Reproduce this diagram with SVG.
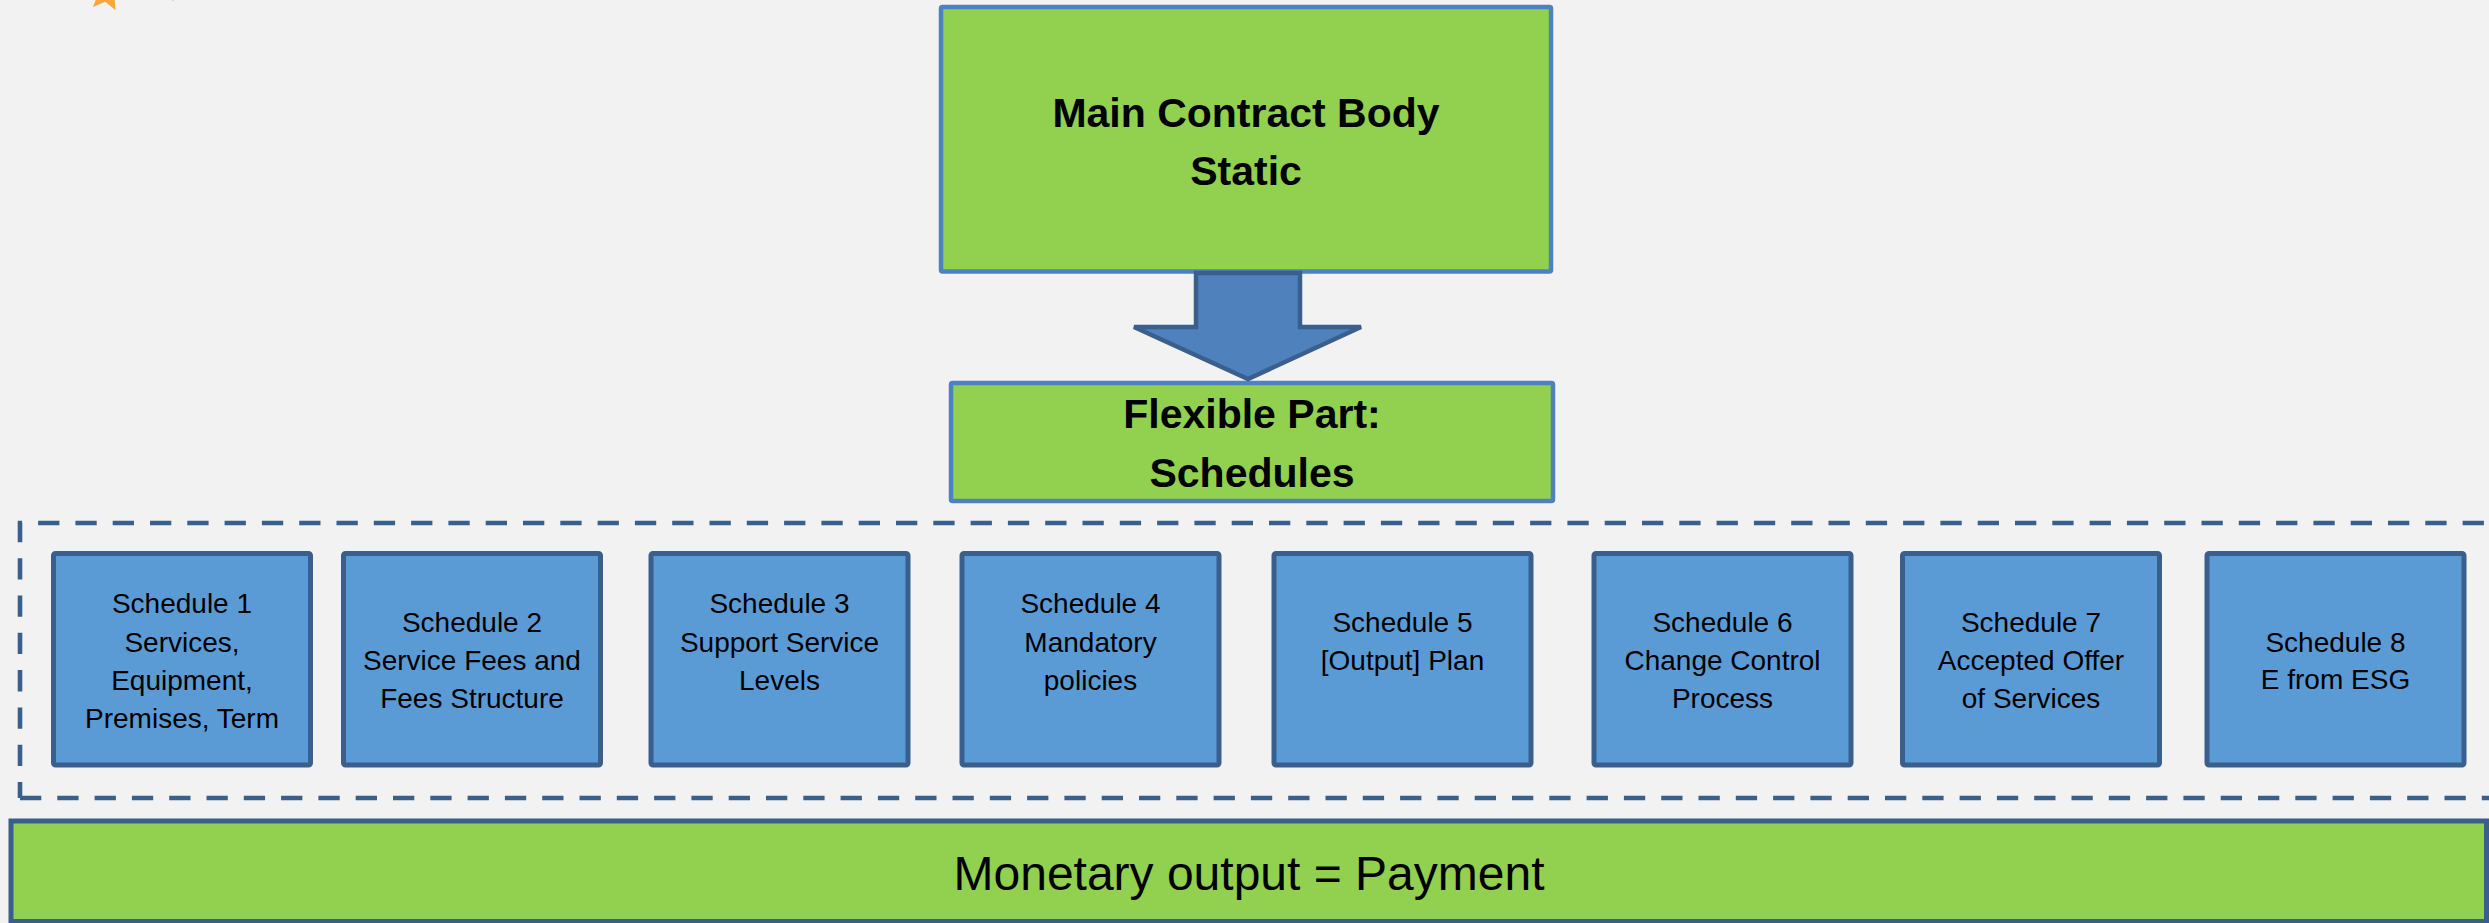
<svg xmlns="http://www.w3.org/2000/svg" width="2489" height="923" viewBox="0 0 2489 923">
<style>
.bg{fill:#F2F2F2}
.green{fill:#92D050;stroke:#4F81BD;stroke-width:4.5}
.sched{fill:#5B9BD5;stroke:#3B5F8C;stroke-width:5}
.bar{fill:#92D050;stroke:#3B5F8C;stroke-width:5}
.dash{fill:none;stroke:#3B5F8C;stroke-width:4.6;stroke-dasharray:21.3 16}
.star{fill:#F9A43E}
.bold{font-family:"Liberation Sans",Arial,sans-serif;font-weight:bold;font-size:41px;fill:#000;text-anchor:middle}
.st{font-family:"Liberation Sans",Arial,sans-serif;font-size:28px;fill:#000;text-anchor:middle}
.big{font-family:"Liberation Sans",Arial,sans-serif;font-size:48px;fill:#000;text-anchor:middle}
.arrow{fill:#4F81BD;stroke:#3B5F8C;stroke-width:4.5;stroke-linejoin:miter}
</style>
<rect class="bg" x="0" y="0" width="2489" height="923"/>
<g id="stars">
<polygon class="star" points="115.65,10.22 105.28,1.71 92.95,7.03 97.83,-5.47 88.97,-15.55 102.37,-14.77 109.21,-26.31 112.61,-13.33 125.7,-10.39 114.41,-3.14"/>
<polygon class="star" points="173,1.5 178,-11 191.5,-12 181,-21 185,-34 173,-27 161,-34 165,-21 154.5,-12 168,-11"/>
</g>
<g id="schedules-frame">
<path class="dash" style="stroke-dashoffset:5.3" d="M20,798 V523 H2540"/>
<path class="dash" d="M20,798 H2540"/>
</g>
<g id="schedule1">
<rect class="sched" x="53.5" y="553.5" width="257" height="211.5" rx="2"/>
<text class="st" x="182" y="613">Schedule 1</text>
<text class="st" x="182" y="652">Services,</text>
<text class="st" x="182" y="690">Equipment,</text>
<text class="st" x="182" y="728">Premises, Term</text>
</g>
<g id="schedule2">
<rect class="sched" x="343.5" y="553.5" width="257" height="211.5" rx="2"/>
<text class="st" x="472" y="632">Schedule 2</text>
<text class="st" x="472" y="670">Service Fees and</text>
<text class="st" x="472" y="708">Fees Structure</text>
</g>
<g id="schedule3">
<rect class="sched" x="651" y="553.5" width="257" height="211.5" rx="2"/>
<text class="st" x="779.5" y="613">Schedule 3</text>
<text class="st" x="779.5" y="652">Support Service</text>
<text class="st" x="779.5" y="690">Levels</text>
</g>
<g id="schedule4">
<rect class="sched" x="962" y="553.5" width="257" height="211.5" rx="2"/>
<text class="st" x="1090.5" y="613">Schedule 4</text>
<text class="st" x="1090.5" y="652">Mandatory</text>
<text class="st" x="1090.5" y="690">policies</text>
</g>
<g id="schedule5">
<rect class="sched" x="1274" y="553.5" width="257" height="211.5" rx="2"/>
<text class="st" x="1402.5" y="632">Schedule 5</text>
<text class="st" x="1402.5" y="670">[Output] Plan</text>
</g>
<g id="schedule6">
<rect class="sched" x="1594" y="553.5" width="257" height="211.5" rx="2"/>
<text class="st" x="1722.5" y="632">Schedule 6</text>
<text class="st" x="1722.5" y="670">Change Control</text>
<text class="st" x="1722.5" y="708">Process</text>
</g>
<g id="schedule7">
<rect class="sched" x="1902.5" y="553.5" width="257" height="211.5" rx="2"/>
<text class="st" x="2031" y="632">Schedule 7</text>
<text class="st" x="2031" y="670">Accepted Offer</text>
<text class="st" x="2031" y="708">of Services</text>
</g>
<g id="schedule8">
<rect class="sched" x="2207" y="553.5" width="257" height="211.5" rx="2"/>
<text class="st" x="2335.5" y="652">Schedule 8</text>
<text class="st" x="2335.5" y="689">E from ESG</text>
</g>
<g id="main-contract">
<rect class="green" x="941" y="7" width="610" height="264.5" rx="1.5"/>
<text class="bold" x="1246" y="127">Main Contract Body</text>
<text class="bold" x="1246" y="185">Static</text>
</g>
<g id="flexible-part">
<rect class="green" x="951" y="383" width="602" height="118" rx="1.5"/>
<text class="bold" x="1252" y="428">Flexible Part:</text>
<text class="bold" x="1252" y="487">Schedules</text>
</g>
<g id="connectors">
<polygon class="arrow" points="1196,273 1300,273 1300,327 1361,327 1248,379 1134,327 1196,327"/>
</g>
<g id="monetary-output">
<rect class="bar" x="11" y="821" width="2475.5" height="100.5"/>
<text class="big" x="1249" y="890">Monetary output = Payment</text>
</g>
</svg>
